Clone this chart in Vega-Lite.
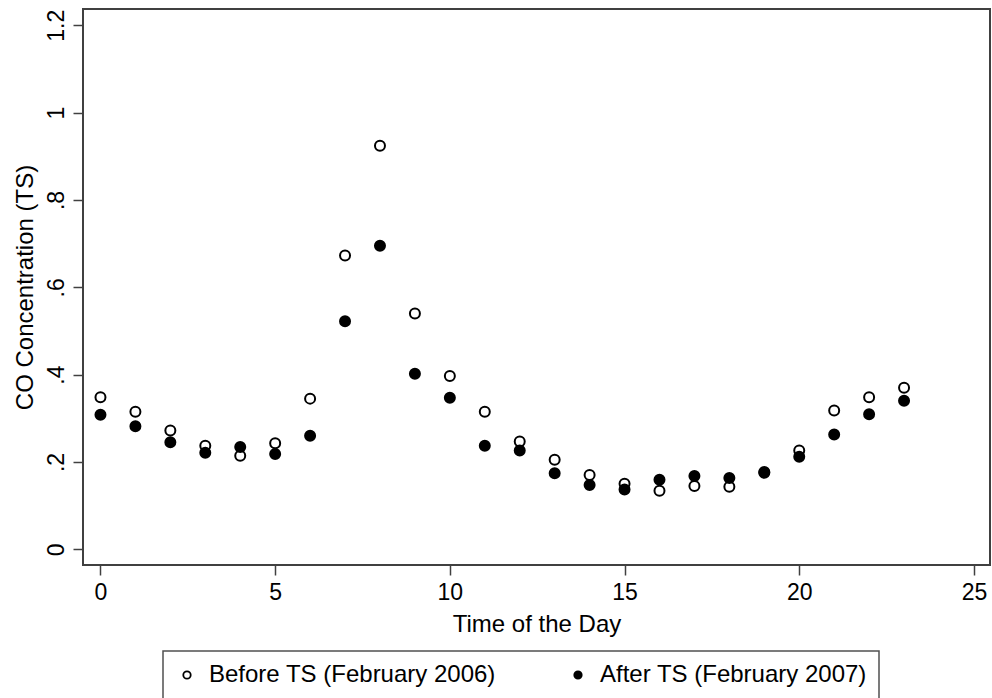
{
  "$schema": "https://vega.github.io/schema/vega-lite/v6.json",
  "width": 907,
  "height": 556,
  "autosize": {"type": "none"},
  "padding": {"left": 83, "top": 9, "right": 2, "bottom": 133},
  "background": "white",
  "config": {
    "font": "Liberation Sans",
    "view": {"stroke": "#404040", "strokeWidth": 2},
    "axis": {
      "domain": false,
      "grid": false,
      "tickColor": "#404040",
      "tickWidth": 1.5,
      "tickSize": 10,
      "labelColor": "black",
      "titleColor": "black",
      "labelFont": "Liberation Sans",
      "titleFont": "Liberation Sans",
      "labelFontSize": 23,
      "titleFontSize": 24,
      "titleFontWeight": "normal"
    },
    "legend": {
      "strokeColor": "#505050",
      "strokeWidth": 1.5,
      "labelFont": "Liberation Sans",
      "labelFontSize": 24,
      "labelColor": "black"
    }
  },
  "data": {
    "values": [
      {"hour": 0, "co": 0.348, "series": "Before TS (February 2006)"},
      {"hour": 1, "co": 0.315, "series": "Before TS (February 2006)"},
      {"hour": 2, "co": 0.272, "series": "Before TS (February 2006)"},
      {"hour": 3, "co": 0.237, "series": "Before TS (February 2006)"},
      {"hour": 4, "co": 0.214, "series": "Before TS (February 2006)"},
      {"hour": 5, "co": 0.243, "series": "Before TS (February 2006)"},
      {"hour": 6, "co": 0.345, "series": "Before TS (February 2006)"},
      {"hour": 7, "co": 0.673, "series": "Before TS (February 2006)"},
      {"hour": 8, "co": 0.924, "series": "Before TS (February 2006)"},
      {"hour": 9, "co": 0.540, "series": "Before TS (February 2006)"},
      {"hour": 10, "co": 0.397, "series": "Before TS (February 2006)"},
      {"hour": 11, "co": 0.315, "series": "Before TS (February 2006)"},
      {"hour": 12, "co": 0.247, "series": "Before TS (February 2006)"},
      {"hour": 13, "co": 0.205, "series": "Before TS (February 2006)"},
      {"hour": 14, "co": 0.170, "series": "Before TS (February 2006)"},
      {"hour": 15, "co": 0.150, "series": "Before TS (February 2006)"},
      {"hour": 16, "co": 0.134, "series": "Before TS (February 2006)"},
      {"hour": 17, "co": 0.145, "series": "Before TS (February 2006)"},
      {"hour": 18, "co": 0.143, "series": "Before TS (February 2006)"},
      {"hour": 19, "co": 0.177, "series": "Before TS (February 2006)"},
      {"hour": 20, "co": 0.226, "series": "Before TS (February 2006)"},
      {"hour": 21, "co": 0.318, "series": "Before TS (February 2006)"},
      {"hour": 22, "co": 0.348, "series": "Before TS (February 2006)"},
      {"hour": 23, "co": 0.370, "series": "Before TS (February 2006)"},
      {"hour": 0, "co": 0.308, "series": "After TS (February 2007)"},
      {"hour": 1, "co": 0.282, "series": "After TS (February 2007)"},
      {"hour": 2, "co": 0.245, "series": "After TS (February 2007)"},
      {"hour": 3, "co": 0.221, "series": "After TS (February 2007)"},
      {"hour": 4, "co": 0.234, "series": "After TS (February 2007)"},
      {"hour": 5, "co": 0.218, "series": "After TS (February 2007)"},
      {"hour": 6, "co": 0.260, "series": "After TS (February 2007)"},
      {"hour": 7, "co": 0.522, "series": "After TS (February 2007)"},
      {"hour": 8, "co": 0.695, "series": "After TS (February 2007)"},
      {"hour": 9, "co": 0.402, "series": "After TS (February 2007)"},
      {"hour": 10, "co": 0.347, "series": "After TS (February 2007)"},
      {"hour": 11, "co": 0.237, "series": "After TS (February 2007)"},
      {"hour": 12, "co": 0.226, "series": "After TS (February 2007)"},
      {"hour": 13, "co": 0.174, "series": "After TS (February 2007)"},
      {"hour": 14, "co": 0.147, "series": "After TS (February 2007)"},
      {"hour": 15, "co": 0.137, "series": "After TS (February 2007)"},
      {"hour": 16, "co": 0.159, "series": "After TS (February 2007)"},
      {"hour": 17, "co": 0.168, "series": "After TS (February 2007)"},
      {"hour": 18, "co": 0.163, "series": "After TS (February 2007)"},
      {"hour": 19, "co": 0.175, "series": "After TS (February 2007)"},
      {"hour": 20, "co": 0.212, "series": "After TS (February 2007)"},
      {"hour": 21, "co": 0.263, "series": "After TS (February 2007)"},
      {"hour": 22, "co": 0.309, "series": "After TS (February 2007)"},
      {"hour": 23, "co": 0.340, "series": "After TS (February 2007)"}
    ]
  },
  "mark": {"type": "point", "shape": "circle", "size": 100, "stroke": "black", "strokeWidth": 2, "opacity": 1},
  "encoding": {
    "x": {
      "field": "hour",
      "type": "quantitative",
      "scale": {"domain": [-0.5, 25.46], "nice": false, "zero": false},
      "axis": {
        "title": "Time of the Day",
        "values": [0, 5, 10, 15, 20, 25],
        "labelPadding": 6,
        "titlePadding": 8
      }
    },
    "y": {
      "field": "co",
      "type": "quantitative",
      "scale": {"domain": [-0.036, 1.2373], "nice": false, "zero": false},
      "axis": {
        "title": "CO Concentration (TS)",
        "values": [0, 0.2, 0.4, 0.6, 0.8, 1, 1.2],
        "labelExpr": "datum.value === 0 ? '0' : datum.value < 1 ? slice(format(datum.value, '.1f'), 1) : format(datum.value, '~g')",
        "labelAngle": -90,
        "labelAlign": "center",
        "labelBaseline": "alphabetic",
        "labelPadding": 10,
        "titlePadding": 8
      }
    },
    "fill": {
      "field": "series",
      "type": "nominal",
      "scale": {
        "domain": ["Before TS (February 2006)", "After TS (February 2007)"],
        "range": ["white", "black"]
      },
      "legend": {
        "title": null,
        "orient": "none",
        "direction": "horizontal",
        "legendX": 80,
        "legendY": 642,
        "padding": 12,
        "symbolType": "circle",
        "symbolSize": 55,
        "symbolStrokeColor": "black",
        "symbolStrokeWidth": 1.8,
        "symbolOpacity": 1,
        "labelOffset": 10,
        "labelLimit": 400,
        "columnPadding": 70,
        "gridAlign": "all"
      }
    }
  }
}
